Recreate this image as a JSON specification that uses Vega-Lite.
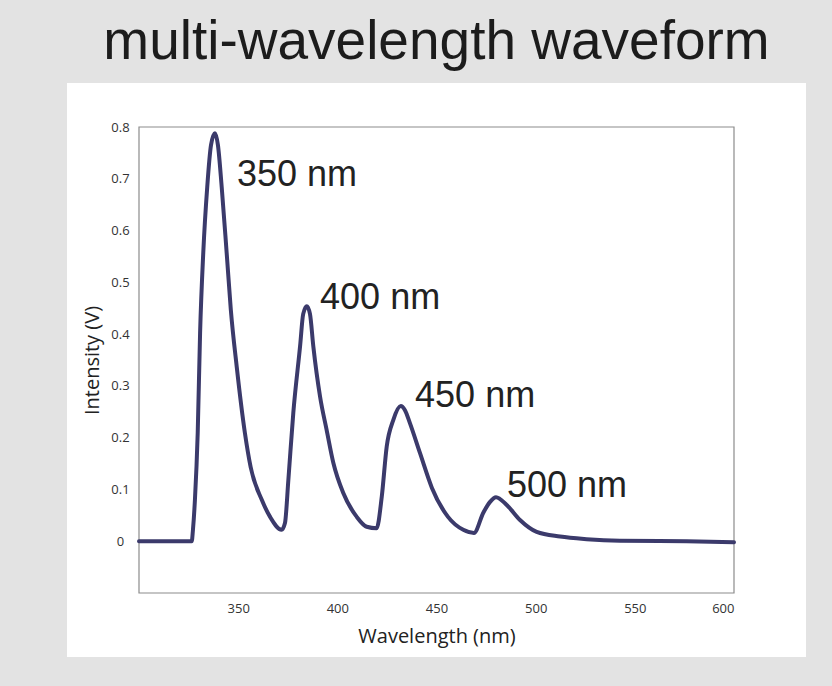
{
  "$schema": "https://vega.github.io/schema/vega-lite/v6.json",
  "width": 595,
  "height": 466,
  "autosize": {"type": "none"},
  "padding": {"left": 139, "top": 127, "right": 98, "bottom": 93},
  "background": "#e3e3e3",
  "title": {
    "text": "multi-wavelength waveform",
    "font": "Liberation Sans",
    "fontSize": 55,
    "fontWeight": "normal",
    "color": "#1c1c1c",
    "anchor": "middle",
    "frame": "group",
    "baseline": "alphabetic",
    "offset": -31
  },
  "config": {
    "view": {"stroke": null},
    "axis": {
      "grid": false,
      "domain": false,
      "ticks": false,
      "labelFont": "Open Sans",
      "labelFontSize": 13,
      "labelColor": "#333333",
      "titleFont": "Open Sans",
      "titleFontSize": 20,
      "titleFontWeight": "normal",
      "titleColor": "#222222"
    }
  },
  "datasets": {
    "spectrum": [
      {"wavelength": 300.0, "intensity": 0.000},
      {"wavelength": 326.6, "intensity": 0.000},
      {"wavelength": 327.2, "intensity": 0.022},
      {"wavelength": 328.2, "intensity": 0.080},
      {"wavelength": 329.6, "intensity": 0.209},
      {"wavelength": 330.8, "intensity": 0.402},
      {"wavelength": 332.4, "intensity": 0.557},
      {"wavelength": 334.4, "intensity": 0.684},
      {"wavelength": 336.3, "intensity": 0.765},
      {"wavelength": 338.3, "intensity": 0.788},
      {"wavelength": 339.8, "intensity": 0.765},
      {"wavelength": 341.7, "intensity": 0.684},
      {"wavelength": 344.2, "intensity": 0.557},
      {"wavelength": 346.3, "intensity": 0.447},
      {"wavelength": 349.3, "intensity": 0.336},
      {"wavelength": 353.4, "intensity": 0.209},
      {"wavelength": 356.3, "intensity": 0.143},
      {"wavelength": 361.9, "intensity": 0.080},
      {"wavelength": 366.1, "intensity": 0.047},
      {"wavelength": 371.9, "intensity": 0.022},
      {"wavelength": 373.6, "intensity": 0.035},
      {"wavelength": 375.3, "intensity": 0.118},
      {"wavelength": 377.8, "intensity": 0.248},
      {"wavelength": 381.2, "intensity": 0.376},
      {"wavelength": 382.8, "intensity": 0.439},
      {"wavelength": 384.6, "intensity": 0.454},
      {"wavelength": 386.2, "intensity": 0.439},
      {"wavelength": 387.9, "intensity": 0.376},
      {"wavelength": 391.3, "intensity": 0.279},
      {"wavelength": 394.6, "intensity": 0.215},
      {"wavelength": 398.0, "intensity": 0.151},
      {"wavelength": 403.0, "intensity": 0.093},
      {"wavelength": 409.8, "intensity": 0.047},
      {"wavelength": 414.8, "intensity": 0.028},
      {"wavelength": 419.8, "intensity": 0.025},
      {"wavelength": 422.4, "intensity": 0.086},
      {"wavelength": 424.9, "intensity": 0.183},
      {"wavelength": 428.2, "intensity": 0.234},
      {"wavelength": 432.0, "intensity": 0.261},
      {"wavelength": 434.1, "intensity": 0.253},
      {"wavelength": 436.6, "intensity": 0.228},
      {"wavelength": 441.7, "intensity": 0.170},
      {"wavelength": 447.7, "intensity": 0.103},
      {"wavelength": 455.8, "intensity": 0.047},
      {"wavelength": 463.5, "intensity": 0.022},
      {"wavelength": 468.9, "intensity": 0.016},
      {"wavelength": 473.6, "intensity": 0.055},
      {"wavelength": 477.0, "intensity": 0.076},
      {"wavelength": 480.0, "intensity": 0.085},
      {"wavelength": 485.4, "intensity": 0.070},
      {"wavelength": 492.1, "intensity": 0.041},
      {"wavelength": 500.5, "intensity": 0.018},
      {"wavelength": 512.3, "intensity": 0.009},
      {"wavelength": 525.7, "intensity": 0.004},
      {"wavelength": 542.5, "intensity": 0.001},
      {"wavelength": 576.1, "intensity": 0.000},
      {"wavelength": 600.0, "intensity": -0.002}
    ],
    "labels": [
      {"wavelength": 349.4, "intensity": 0.707, "label": "350 nm"},
      {"wavelength": 391.3, "intensity": 0.470, "label": "400 nm"},
      {"wavelength": 439.2, "intensity": 0.280, "label": "450 nm"},
      {"wavelength": 485.5, "intensity": 0.107, "label": "500 nm"}
    ]
  },
  "layer": [
    {
      "data": {"values": [{}]},
      "mark": {"type": "rect", "fill": "#ffffff", "clip": false},
      "encoding": {
        "x": {"datum": 263.7, "type": "quantitative", "scale": {"domain": [300, 600], "nice": false, "zero": false}, "axis": {"title": "Wavelength (nm)", "zindex": 2, "values": [350, 400, 450, 500, 550, 600], "format": "d", "labelPadding": 9, "titlePadding": 11}},
        "x2": {"datum": 636.3},
        "y": {"datum": 0.885, "type": "quantitative", "scale": {"domain": [-0.1, 0.8], "nice": false, "zero": false}, "axis": {"title": "Intensity (V)", "zindex": 2, "values": [0, 0.1, 0.2, 0.3, 0.4, 0.5, 0.6, 0.7, 0.8], "format": ".1~f", "labelAlign": "center", "labelPadding": 19, "titlePadding": 8}},
        "y2": {"datum": -0.2236}
      }
    },
    {
      "data": {"values": [{}]},
      "mark": {"type": "rect", "fill": null, "stroke": "#8c8c8c", "strokeWidth": 1.2},
      "encoding": {
        "x": {"datum": 300, "type": "quantitative"},
        "x2": {"datum": 600},
        "y": {"datum": 0.8, "type": "quantitative"},
        "y2": {"datum": -0.1}
      }
    },
    {
      "data": {"name": "spectrum"},
      "mark": {"type": "line", "interpolate": "monotone", "color": "#3b3a6b", "strokeWidth": 4, "strokeCap": "round", "strokeJoin": "round"},
      "encoding": {
        "x": {"field": "wavelength", "type": "quantitative"},
        "y": {"field": "intensity", "type": "quantitative"}
      }
    },
    {
      "data": {"name": "labels"},
      "mark": {"type": "text", "align": "left", "baseline": "middle", "font": "Liberation Sans", "fontSize": 36, "color": "#222222"},
      "encoding": {
        "x": {"field": "wavelength", "type": "quantitative"},
        "y": {"field": "intensity", "type": "quantitative"},
        "text": {"field": "label"}
      }
    }
  ]
}
